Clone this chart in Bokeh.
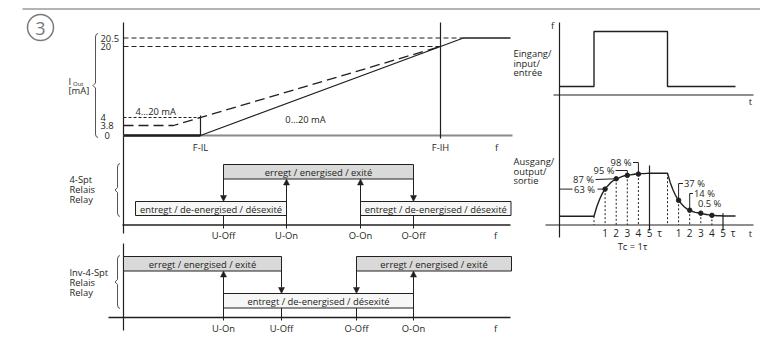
import numpy as np
from bokeh.plotting import figure
from bokeh.models import Range1d, Arrow, NormalHead
from bokeh.core.properties import value
from bokeh.embed import file_html
from bokeh.resources import INLINE

# ---------------- data ----------------
panel_number = "3"
current_labels = ["0", "3.8", "4", "20", "20.5"]
current_mA = [0.0, 3.8, 4.0, 20.0, 20.5]
freq_marks = ["F-IL", "F-IH"]
range_labels = ["4…20 mA", "0…20 mA"]
relay_marks = ["U-Off", "U-On", "O-On", "O-Off"]
inv_marks = ["U-On", "U-Off", "O-Off", "O-On"]
relay_names = ["4-Spt", "Relais", "Relay"]
inv_names = ["Inv-4-Spt", "Relais", "Relay"]
state_on = "erregt / energised / exité"
state_off = "entregt / de-energised / désexité"
input_names = ["Eingang/", "input/", "entrée"]
output_names = ["Ausgang/", "output/", "sortie"]
tau_ticks = [1, 2, 3, 4, 5]
# output curve read every 0.25 tau (percent of final value)
rise_pct = [0, 22, 39, 53, 63, 71, 78, 83, 87, 89, 92, 94, 95, 96, 97, 98, 98, 99, 99, 99.5, 100]
fall_pct = [100, 78, 61, 47, 37, 29, 22, 17, 14, 11, 9, 8, 7, 5, 4, 3, 2, 1.5, 1, 1, 0.5]
rise_labels = ["63 %", "87 %", "95 %", "98 %"]
fall_labels = ["37 %", "14 %", "0.5 %"]
tc_label = "Tc = 1τ"

# ---------------- layout ----------------
INK = "#231f20"
FONT = value("Open Sans")
FS = "9.4px"

p = figure(width=760, height=342, x_range=Range1d(0, 760), y_range=Range1d(342, 0),
           output_backend="svg", toolbar_location=None, min_border=0,
           x_axis_type=None, y_axis_type=None)
p.grid.visible = False
p.outline_line_color = None
p.background_fill_color = "white"


def txt(x, y, s, align="left", size=FS, color=INK, baseline="middle"):
    p.text(x=[x], y=[y], text=[s], text_align=align, text_baseline=baseline,
           text_font=FONT, text_font_size=size, text_color=color)


def seg(x0, y0, x1, y1, color=INK, w=1.0, dash="solid"):
    p.line([x0, x1], [y0, y1], line_color=color, line_width=w, line_dash=dash)


def arrow(x0, y0, x1, y1):
    p.add_layout(Arrow(end=NormalHead(size=6, fill_color=INK, line_color=INK, line_width=0.5),
                       x_start=x0, y_start=y0, x_end=x1, y_end=y1,
                       line_color=INK, line_width=1))


def brace(x, y0, y1, w=2.5, color="#555"):
    ym = (y0 + y1) / 2
    xs = [x + w, x + w * 0.25, x, x, x - w, x, x, x + w * 0.25, x + w]
    ys = [y0, y0 + 1, y0 + 3.5, ym - 2.5, ym, ym + 2.5, y1 - 3.5, y1 - 1, y1]
    p.line(xs, ys, line_color=color, line_width=1)


# header rule and number
seg(22, 8.5, 760, 8.5, color="#9a9a9a", w=1.5)
p.scatter([40], [27], size=26, marker="circle", fill_color=None, line_color="#7a7a7a", line_width=1.5)
txt(40, 28, panel_number, align="center", size="18px", color="#7a7a7a")

# ---------------- top-left: current output ----------------
AX = 123
level_y = dict(zip(current_mA, [135, 125, 117, 46, 37.5]))
fx = {"F-IL": 200, "F-IH": 440}
x_end = 510

def ly(v):
    return level_y[v]

# axes
seg(AX, 22, AX, 233, w=1.2)
seg(AX, ly(0), 512, ly(0), color="#8a8a8a", w=2)
# tick labels
for lab, v in zip(current_labels, current_mA):
    txt(104 if lab == "0" else 100, ly(v), lab)
brace(95, 33, 137)
txt(68, 81, "I", size="9.4px")
txt(72.5, 83, "Out", size="6px")
txt(68, 90, "[mA]")

# reference dashed levels
x20 = fx["F-IH"]
slope0 = (ly(0) - ly(20)) / (fx["F-IH"] - fx["F-IL"])
x205 = fx["F-IL"] + (ly(0) - ly(20.5)) / slope0
seg(AX, ly(20.5), x205, ly(20.5), dash="5 3")
seg(AX, ly(20), x20, ly(20), dash="5 3")
seg(AX, ly(4), fx["F-IL"], ly(4), dash="3 2")
# 0..20 mA characteristic
seg(AX, ly(0), fx["F-IL"], ly(0), w=2.4)
p.line([fx["F-IL"], x205, x_end], [ly(0), ly(20.5), ly(20.5)], line_color=INK, line_width=1.3)
# 4..20 mA characteristic (dashed)
slope4 = (ly(4) - ly(20)) / (fx["F-IH"] - fx["F-IL"])
x38 = fx["F-IL"] - (ly(3.8) - ly(4)) / slope4
p.line([AX, x38, fx["F-IH"]], [ly(3.8), ly(3.8), ly(20)], line_color=INK, line_width=1.3, line_dash="10 5")
# markers
seg(fx["F-IL"], 115, fx["F-IL"], ly(0), w=1.2)
seg(fx["F-IH"], 22, fx["F-IH"], 138, w=1.2)
txt(fx["F-IL"], 147, freq_marks[0], align="center")
txt(fx["F-IH"], 147, freq_marks[1], align="center")
txt(496, 147, "f", align="center")
txt(135, 111, range_labels[0])
txt(305, 119, range_labels[1], align="center")

# ---------------- relay (4-Spt) ----------------
ON_FILL = "#d9d9d9"
OFF_FILL = "#f6f6f6"
rx = dict(zip(relay_marks, [223, 286, 360, 413]))
r_top, r_bot = 164, 178.5
r2_top, r2_bot = 201, 215
r_base = 224.5
seg(122, r_base, 510, r_base, w=1.3)
p.quad(left=[rx["U-Off"]], right=[rx["O-Off"]], top=[r_top], bottom=[r_bot],
       fill_color=ON_FILL, line_color=INK, line_width=1)
p.quad(left=[135, rx["O-On"]], right=[rx["U-On"], 510.5], top=[r2_top] * 2, bottom=[r2_bot] * 2,
       fill_color=OFF_FILL, line_color=INK, line_width=1)
txt((rx["U-Off"] + rx["O-Off"]) / 2, (r_top + r_bot) / 2 + 0.5, state_on, align="center")
txt((135 + rx["U-On"]) / 2, (r2_top + r2_bot) / 2 + 0.5, state_off, align="center")
txt((rx["O-On"] + 510.5) / 2, (r2_top + r2_bot) / 2 + 0.5, state_off, align="center")
for m in ["U-Off", "O-Off"]:
    arrow(rx[m], r_bot, rx[m], r2_top)
    seg(rx[m], r2_bot, rx[m], r_base + 3.5)
for m in ["U-On", "O-On"]:
    arrow(rx[m], r_base + 3.5, rx[m], r_bot)
for m in relay_marks:
    txt(rx[m], 235, m, align="center")
txt(495, 235, "f", align="center")
brace(117, 163, 216)
for i, s in enumerate(relay_names):
    txt(69, 179 + 10 * i, s)

# ---------------- inverted relay ----------------
ix = dict(zip(inv_marks, [223, 281, 356, 413]))
i_top, i_bot = 256, 270.5
i2_top, i2_bot = 293, 307.5
i_base = 317
seg(AX, 243, AX, 330, w=1.2)
seg(108, i_base, 510, i_base, w=1.3)
p.quad(left=[AX, ix["O-Off"]], right=[ix["U-Off"], 511], top=[i_top] * 2, bottom=[i_bot] * 2,
       fill_color=ON_FILL, line_color=INK, line_width=1)
p.quad(left=[ix["U-On"]], right=[ix["O-On"]], top=[i2_top], bottom=[i2_bot],
       fill_color=OFF_FILL, line_color=INK, line_width=1)
txt((AX + ix["U-Off"]) / 2, (i_top + i_bot) / 2 + 0.5, state_on, align="center")
txt((ix["O-Off"] + 511) / 2, (i_top + i_bot) / 2 + 0.5, state_on, align="center")
txt((ix["U-On"] + ix["O-On"]) / 2, (i2_top + i2_bot) / 2 + 0.5, state_off, align="center")
for m in ["U-Off", "O-Off"]:
    arrow(ix[m], i_bot, ix[m], i2_top)
    seg(ix[m], i2_bot, ix[m], i_base + 3)
for m in ["U-On", "O-On"]:
    arrow(ix[m], i_base + 3, ix[m], i_bot)
for m in inv_marks:
    txt(ix[m], 327.5, m, align="center")
txt(495, 327.5, "f", align="center")
brace(117, 255, 308)
for i, s in enumerate(inv_names):
    txt(69, 272 + 10 * i, s)

# ---------------- right: input / output time response ----------------
RX = 559
t_rise = 593.5
t_fall = 667
tau_px = 11.1
in_lo, in_hi = 86, 31
out_lo, out_hi = 215.7, 172.7
t_last = 735

def oy(pct):
    return out_lo - np.asarray(pct, dtype=float) / 100.0 * (out_lo - out_hi)

seg(RX, 22, RX, 237, w=1.2)
seg(553, 94.5, 753, 94.5, w=1.2)
seg(545, 224.5, 753, 224.5, w=1.2)
txt(552, 25, "f", align="center")
txt(750, 101, "t", align="center")
txt(750, 233, "t", align="center")
for i, s in enumerate(input_names):
    txt(513, 53 + 9.7 * i, s)
for i, s in enumerate(output_names):
    txt(513, 161 + 9.7 * i, s)

# input pulse
p.line([RX, t_rise, t_rise, t_fall, t_fall, t_last], [in_lo, in_lo, in_hi, in_hi, in_lo, in_lo],
       line_color=INK, line_width=1.4)

# output response
n = len(rise_pct)
tau_s = np.arange(n) * 0.25
xr = t_rise + tau_s * tau_px
xf = t_fall + tau_s * tau_px
out_x = np.concatenate([[RX], xr, xf, [t_last]])
out_y = np.concatenate([[out_lo], oy(rise_pct), oy(fall_pct), [oy(fall_pct[-1])]])
p.line(out_x, out_y, line_color=INK, line_width=1.4)

idx = [int(k / 0.25) for k in tau_ticks[:4]]
rdx = t_rise + np.array(tau_ticks[:4]) * tau_px
rdy = oy([rise_pct[i] for i in idx])
fdx = t_fall + np.array(tau_ticks[:4]) * tau_px
fdy = oy([fall_pct[i] for i in idx])
# dashed drop lines
for x0, y0 in list(zip(rdx, rdy)) + list(zip(fdx, fdy)) + [(t_rise, out_lo), (t_fall, out_hi)]:
    seg(x0, y0, x0, 224.5, dash="2 2")
# 5 tau solid markers
seg(t_rise + 5 * tau_px, 165, t_rise + 5 * tau_px, 230, w=1.2)
seg(t_fall + 5 * tau_px, 212.7, t_fall + 5 * tau_px, 230, w=1.2)
p.scatter(np.concatenate([rdx, fdx]), np.concatenate([rdy, fdy]), size=4.5, marker="circle",
          fill_color=INK, line_color=INK)
for base in (t_rise, t_fall):
    for k in tau_ticks:
        txt(base + k * tau_px, 232, str(k), align="center", size="10px")
    txt(base + 5 * tau_px + 10, 232, "τ", align="center", size="10px")
txt(632, 246, tc_label, align="center")

# percent labels with leaders (rising)
txt(584, 188.5, rise_labels[0], align="center")
seg(RX, rdy[0], 572, rdy[0])
seg(597, rdy[0], rdx[0], rdy[0])
txt(583, 179, rise_labels[1], align="center")
seg(595, 179, rdx[1], rdy[1])
txt(603.5, 170, rise_labels[2], align="center")
p.line([615, rdx[2], rdx[2]], [170, 170, rdy[2]], line_color=INK, line_width=1)
txt(620.5, 162, rise_labels[3], align="center")
p.line([632.5, rdx[3], rdx[3]], [162, 162, rdy[3]], line_color=INK, line_width=1)
# decay
txt(683.5, 183, fall_labels[0])
p.line([fdx[0], fdx[0], 682.5], [fdy[0], 183, 183], line_color=INK, line_width=1)
txt(693.5, 193, fall_labels[1])
p.line([fdx[1], fdx[1], 692.5], [fdy[1], 193, 193], line_color=INK, line_width=1)
txt(697.5, 203, fall_labels[2])

open("out.html", "w").write(file_html(p, INLINE))
